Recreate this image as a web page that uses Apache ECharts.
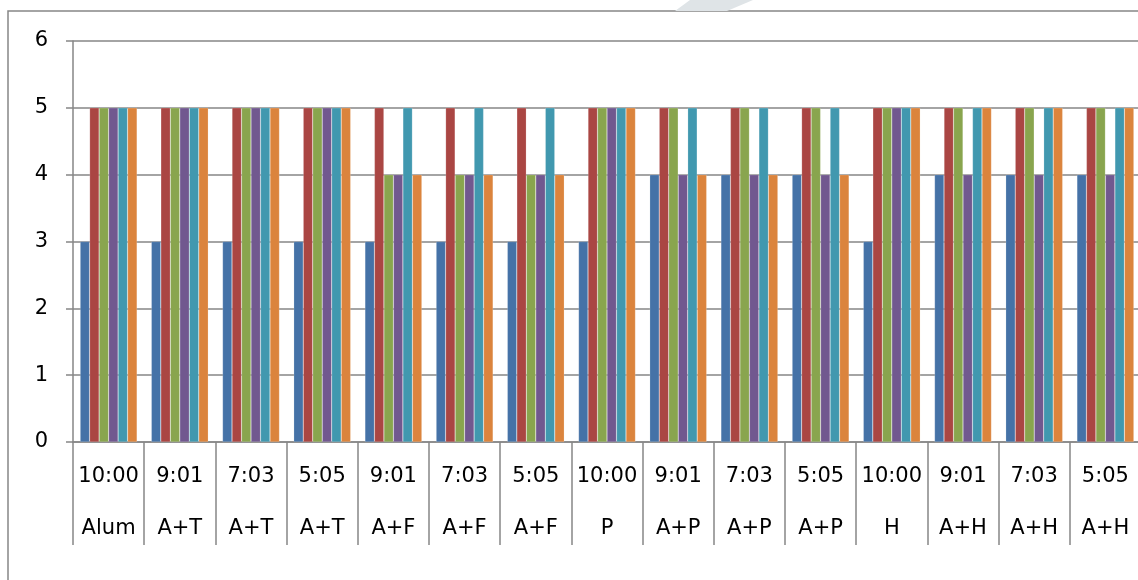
<!DOCTYPE html>
<html>
<head>
<meta charset="utf-8">
<script src="https://cdn.jsdelivr.net/npm/echarts@6/dist/echarts.min.js"></script>
<style>
  html, body { margin: 0; padding: 0; background: #fff; }
  #chart { width: 1138px; height: 580px; }
</style>
</head>
<body>
<div id="chart"></div>
<script>
// two-row category labels
const times = ['10:00', '9:01', '7:03', '5:05', '9:01', '7:03', '5:05', '10:00', '9:01', '7:03', '5:05', '10:00', '9:01', '7:03', '5:05'];
const groups = ['Alum', 'A+T', 'A+T', 'A+T', 'A+F', 'A+F', 'A+F', 'P', 'A+P', 'A+P', 'A+P', 'H', 'A+H', 'A+H', 'A+H'];

// six unnamed series
const series1 = [3, 3, 3, 3, 3, 3, 3, 3, 4, 4, 4, 3, 4, 4, 4];
const series2 = [5, 5, 5, 5, 5, 5, 5, 5, 5, 5, 5, 5, 5, 5, 5];
const series3 = [5, 5, 5, 5, 4, 4, 4, 5, 5, 5, 5, 5, 5, 5, 5];
const series4 = [5, 5, 5, 5, 4, 4, 4, 5, 4, 4, 4, 5, 4, 4, 4];
const series5 = [5, 5, 5, 5, 5, 5, 5, 5, 5, 5, 5, 5, 5, 5, 5];
const series6 = [5, 5, 5, 5, 4, 4, 4, 5, 4, 4, 4, 5, 5, 5, 5];

const colors = ['#4572A7', '#AA4643', '#89A54E', '#71588F', '#4198AF', '#DB843D'];
const gray = '#868686';

const categories = times.map((t, i) => t + '|' + groups[i]);

const chart = echarts.init(document.getElementById('chart'));

chart.setOption({
  animation: false,
  color: colors,
  textStyle: { fontFamily: 'DejaVu Sans' },
  grid: {
    left: 73,
    right: -3,
    top: 41,
    bottom: 138,
    outerBoundsMode: 'none'
  },
  xAxis: {
    type: 'category',
    data: categories,
    boundaryGap: true,
    axisLine: { lineStyle: { color: gray, width: 1.5 } },
    axisTick: { show: true, alignWithLabel: false, interval: 0, length: 103, lineStyle: { color: gray, width: 1.5 } },
    axisLabel: {
      interval: 0,
      margin: 9,
      formatter: function (value) {
        const parts = value.split('|');
        return '{t|' + parts[0] + '}\n{g|' + parts[1] + '}';
      },
      rich: {
        t: { fontSize: 21, lineHeight: 52, color: '#000', fontFamily: 'DejaVu Sans' },
        g: { fontSize: 21, lineHeight: 52, color: '#000', fontFamily: 'DejaVu Sans' }
      }
    }
  },
  yAxis: {
    type: 'value',
    min: 0,
    max: 6,
    interval: 1,
    axisLine: { show: true, lineStyle: { color: gray, width: 1.5 } },
    axisTick: { show: true, length: 7, lineStyle: { color: gray, width: 1.5 } },
    axisLabel: { margin: 25, fontSize: 21, color: '#000', fontFamily: 'DejaVu Sans' },
    splitLine: { lineStyle: { color: gray, width: 1.5 } }
  },
  graphic: [
    {
      type: 'rect',
      shape: { x: 8, y: 11, width: 1300, height: 700 },
      style: { fill: 'none', stroke: gray, lineWidth: 1.5 },
      silent: true
    },
    {
      type: 'polygon',
      shape: { points: [[690, 0], [753, 0], [727, 11], [675, 11]] },
      style: { fill: '#dfe4e7' },
      silent: true
    }
  ],
  series: [series1, series2, series3, series4, series5, series6].map(function (d) {
    return {
      type: 'bar',
      data: d,
      barGap: '0%',
      barCategoryGap: '20%',
      itemStyle: { borderColor: 'rgba(255,255,255,0.35)', borderWidth: 0.5 }
    };
  })
});
</script>
</body>
</html>
